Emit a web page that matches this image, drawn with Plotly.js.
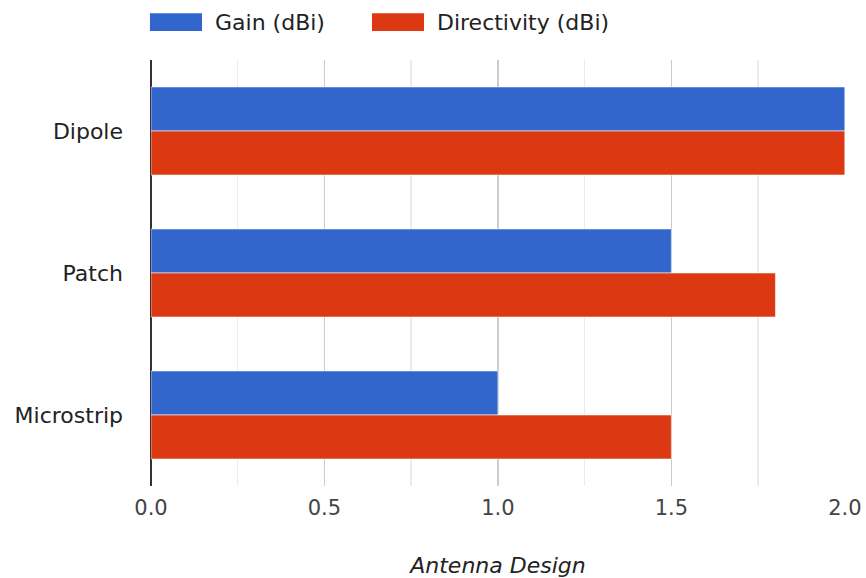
<!DOCTYPE html>
<html>
<head>
<meta charset="utf-8">
<script src="https://cdn.plot.ly/plotly-3.0.1.min.js"></script>
<style>
  html, body { margin: 0; padding: 0; background: #fff; }
  #chart { width: 866px; height: 578px; }
</style>
</head>
<body>
<div id="chart"></div>
<script>
// Antenna designs and their measured figures
const designs = ["Dipole", "Patch", "Microstrip"];
const gainDbi = [2.0, 1.5, 1.0];
const directivityDbi = [2.0, 1.8, 1.5];
const seriesNames = ["Gain (dBi)", "Directivity (dBi)"];
const seriesColors = ["#3366cc", "#dc3912"];
const xTickValues = [0, 0.5, 1.0, 1.5, 2.0];
const xTickText = ["0.0", "0.5", "1.0", "1.5", "2.0"];

const FONT = "DejaVu Sans, Liberation Sans, Arial, sans-serif";

const seriesValues = [gainDbi, directivityDbi];
const traces = seriesValues.map((vals, i) => ({
  type: "bar",
  orientation: "h",
  name: seriesNames[i],
  y: designs,
  x: vals,
  marker: { color: seriesColors[i], line: { color: "rgba(255,255,255,0.55)", width: 1 } },
  hoverinfo: "x+name"
}));

// Legend across the top: wide colour keys followed by the series names
const keyX = [[-0.0015, 0.0735], [0.3184, 0.3934]];
const labelX = [0.0893, 0.4092];
const shapes = seriesNames.map((n, i) => ({
  type: "rect", xref: "paper", yref: "paper",
  x0: keyX[i][0], x1: keyX[i][1], y0: 1.068, y1: 1.110,
  fillcolor: seriesColors[i], line: { width: 0 }
}));
const annotations = seriesNames.map((n, i) => ({
  text: n, xref: "paper", yref: "paper",
  x: labelX[i], y: 1.089, xanchor: "left", yanchor: "middle",
  showarrow: false,
  font: { family: FONT, size: 22, color: "#222" }
}));

const layout = {
  width: 866,
  height: 578,
  margin: { l: 151, r: 21, t: 60, b: 92 },
  paper_bgcolor: "#fff",
  plot_bgcolor: "#fff",
  barmode: "group",
  bargap: 0.38,
  bargroupgap: 0,
  showlegend: false,
  xaxis: {
    range: [0, 2.0005],
    tickvals: xTickValues,
    ticktext: xTickText,
    ticks: "",
    ticklabelstandoff: 7,
    tickfont: { family: FONT, size: 21, color: "#444" },
    showgrid: true,
    gridcolor: "#cccccc",
    gridwidth: 1.5,
    minor: { dtick: 0.25, showgrid: true, gridcolor: "#ebebeb", gridwidth: 1.5 },
    zeroline: true,
    zerolinecolor: "#333",
    zerolinewidth: 2,
    showline: false,
    fixedrange: true,
    title: {
      text: "Antenna Design",
      standoff: 40,
      font: { family: FONT, size: 22, color: "#222", style: "italic" }
    }
  },
  yaxis: {
    type: "category",
    autorange: "reversed",
    ticks: "",
    ticklabelstandoff: 27,
    tickfont: { family: FONT, size: 22, color: "#222" },
    showgrid: false,
    showline: false,
    fixedrange: true
  },
  shapes: shapes,
  annotations: annotations
};

Plotly.newPlot("chart", traces, layout, { displayModeBar: false, staticPlot: true });
</script>
</body>
</html>
